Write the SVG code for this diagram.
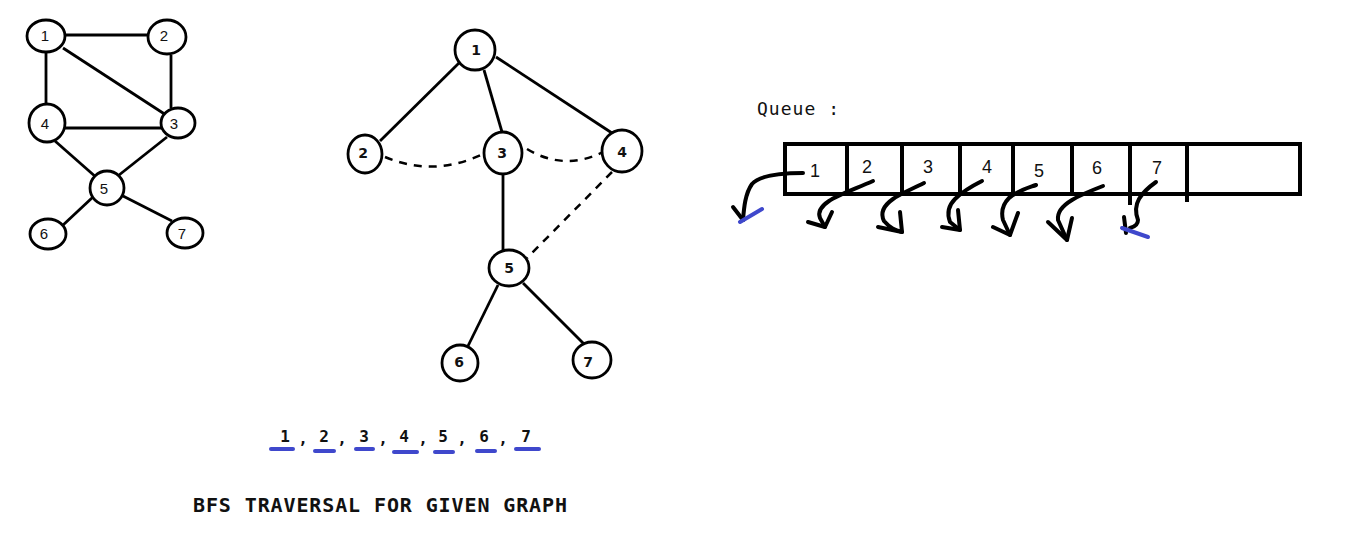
<svg xmlns="http://www.w3.org/2000/svg" width="1354" height="553" viewBox="0 0 1354 553">
<style>
.n{fill:#fff;stroke:#000;stroke-width:2.8}
.e{stroke:#000;stroke-width:2.8;fill:none}
.d{stroke:#000;stroke-width:2.5;fill:none;stroke-dasharray:8 7}
.ls{font-family:"Liberation Sans",Arial,sans-serif;font-size:15px;text-anchor:middle;fill:#111}
.ms{font-family:"DejaVu Sans",Verdana,sans-serif;font-size:14px;font-weight:bold;text-anchor:middle;fill:#111}
.q{font-family:"Liberation Sans",Arial,sans-serif;font-size:18px;text-anchor:middle;fill:#111}
.a{stroke:#000;stroke-width:4;fill:none;stroke-linecap:round;stroke-linejoin:round}
.b{stroke:#3f48cc;stroke-width:4;fill:none;stroke-linecap:round}
.sq{font-family:"DejaVu Sans Mono",monospace;font-size:16px;font-weight:bold;text-anchor:middle;fill:#111}
</style>
<rect width="1354" height="553" fill="#fff"/>
<g id="connectors">
<line class="e" x1="66" y1="35" x2="148" y2="35"/>
<line class="e" x1="46" y1="52" x2="46" y2="103"/>
<line class="e" x1="63" y1="48" x2="166" y2="115"/>
<line class="e" x1="171" y1="55" x2="171" y2="108"/>
<line class="e" x1="65" y1="128" x2="163" y2="128"/>
<line class="e" x1="55" y1="141" x2="97" y2="178"/>
<line class="e" x1="167" y1="137" x2="114" y2="179"/>
<line class="e" x1="93" y1="197" x2="62" y2="226"/>
<line class="e" x1="123" y1="196" x2="172" y2="221"/>
<line class="e" x1="459" y1="63" x2="380" y2="141"/>
<line class="e" x1="484" y1="70" x2="502" y2="132"/>
<line class="e" x1="496" y1="57" x2="615" y2="135"/>
<line class="e" x1="503" y1="174" x2="503" y2="250"/>
<line class="e" x1="498" y1="285" x2="467" y2="348"/>
<line class="e" x1="523" y1="283" x2="585" y2="345"/>
<path class="d" d="M385 157 Q435 178 485 153"/>
<path class="d" d="M527 149 Q565 172 605 151"/>
<line class="d" x1="612" y1="172" x2="527" y2="258"/>
<path class="a" d="M803 173 C780 173 760 175 752 184 C745 194 744 208 743 220"/>
<path class="a" d="M733 207 L743 220"/>
<path class="a" d="M873 181 C855 189 838 195 829 201 C820 207 818 213 820 218 L825 227"/>
<path class="a" d="M808 222 L825 227 L832 212"/>
<path class="a" d="M924 183 C910 190 900 194 893 199 C883 206 880 213 884 221 C890 228 895 230 902 232"/>
<path class="a" d="M878 227 L902 232 L900 212"/>
<path class="a" d="M982 181 C970 187 960 194 955 199 C948 206 947 214 950 222 L960 230"/>
<path class="a" d="M942 227 L960 230 L958 210"/>
<path class="a" d="M1036 185 C1025 189 1015 192 1009 198 C1002 205 1001 212 1003 220 L1010 235"/>
<path class="a" d="M993 227 L1010 235 L1018 213"/>
<path class="a" d="M1103 186 C1090 191 1080 195 1072 200 C1062 206 1057 212 1058 220 L1067 240"/>
<path class="a" d="M1048 222 L1067 240 L1072 218"/>
<path class="a" d="M1156 182 C1149 187 1143 192 1139 199 C1135 206 1135 212 1138 220 C1138 225 1134 227 1130 228"/>
<path class="a" d="M1124 217 L1126 233"/>
<line class="b" x1="740" y1="222" x2="762" y2="209"/>
<line class="b" x1="1122" y1="228" x2="1148" y2="237"/>
<line class="b" x1="271" y1="449" x2="293" y2="449"/>
<line class="b" x1="315" y1="451" x2="334" y2="451"/>
<line class="b" x1="356" y1="449" x2="373" y2="449"/>
<line class="b" x1="394" y1="452" x2="417" y2="452"/>
<line class="b" x1="435" y1="452" x2="453" y2="452"/>
<line class="b" x1="477" y1="451" x2="495" y2="451"/>
<line class="b" x1="516" y1="449" x2="539" y2="449"/>
</g>
<g id="left-graph">
<g id="l1"><ellipse class="n" cx="46" cy="36" rx="19" ry="16"/><text class="ls" x="45" y="41">1</text></g>
<g id="l2"><ellipse class="n" cx="167" cy="37" rx="19" ry="17"/><text class="ls" x="164" y="41">2</text></g>
<g id="l4"><ellipse class="n" cx="47" cy="123" rx="18" ry="19"/><text class="ls" x="45" y="129">4</text></g>
<g id="l3"><ellipse class="n" cx="178" cy="123" rx="17" ry="15"/><text class="ls" x="174" y="129">3</text></g>
<g id="l5"><ellipse class="n" cx="107" cy="188" rx="17" ry="17"/><text class="ls" x="104" y="194">5</text></g>
<g id="l6"><ellipse class="n" cx="48" cy="234" rx="18" ry="15"/><text class="ls" x="44" y="239">6</text></g>
<g id="l7"><ellipse class="n" cx="185" cy="233" rx="18" ry="15"/><text class="ls" x="182" y="239">7</text></g>
</g>
<g id="tree">
<g id="t1"><ellipse class="n" cx="475" cy="50" rx="20" ry="20"/><text class="ms" x="476" y="55">1</text></g>
<g id="t2"><ellipse class="n" cx="365" cy="154" rx="17" ry="19"/><text class="ms" x="363" y="158">2</text></g>
<g id="t3"><ellipse class="n" cx="503" cy="153" rx="19" ry="21"/><text class="ms" x="502" y="158">3</text></g>
<g id="t4"><ellipse class="n" cx="622" cy="151" rx="20" ry="21"/><text class="ms" x="622" y="157">4</text></g>
<g id="t5"><ellipse class="n" cx="509" cy="268" rx="20" ry="18"/><text class="ms" x="509" y="273">5</text></g>
<g id="t6"><ellipse class="n" cx="460" cy="363" rx="18" ry="18"/><text class="ms" x="459" y="367">6</text></g>
<g id="t7"><ellipse class="n" cx="592" cy="360" rx="19" ry="18"/><text class="ms" x="588" y="367">7</text></g>
</g>
<g id="queue">
<text x="757" y="115" font-family="DejaVu Sans Mono,monospace" font-size="18" fill="#111" textLength="82" lengthAdjust="spacing">Queue :</text>
<rect x="785" y="144" width="515" height="50" fill="none" stroke="#000" stroke-width="4"/>
<g stroke="#000" stroke-width="4">
<line x1="847" y1="144" x2="847" y2="194"/>
<line x1="902" y1="144" x2="902" y2="194"/>
<line x1="960" y1="144" x2="960" y2="194"/>
<line x1="1013" y1="144" x2="1013" y2="194"/>
<line x1="1072" y1="144" x2="1072" y2="194"/>
<line x1="1130" y1="144" x2="1130" y2="205"/>
<line x1="1187" y1="144" x2="1187" y2="202"/>
</g>
<text class="q" x="815" y="177">1</text>
<text class="q" x="867" y="173">2</text>
<text class="q" x="928" y="173">3</text>
<text class="q" x="987" y="173">4</text>
<text class="q" x="1039" y="177">5</text>
<text class="q" x="1097" y="174">6</text>
<text class="q" x="1157" y="174">7</text>
</g>
<g id="sequence">
<text class="sq" x="285" y="442">1</text><text class="sq" x="303" y="444">,</text>
<text class="sq" x="324" y="442">2</text><text class="sq" x="342" y="444">,</text>
<text class="sq" x="364" y="442">3</text><text class="sq" x="383" y="444">,</text>
<text class="sq" x="404" y="442">4</text><text class="sq" x="423" y="444">,</text>
<text class="sq" x="443" y="442">5</text><text class="sq" x="462" y="444">,</text>
<text class="sq" x="484" y="442">6</text><text class="sq" x="503" y="444">,</text>
<text class="sq" x="526" y="442">7</text>
</g>
<g id="title">
<text x="193" y="512" font-family="DejaVu Sans Mono,monospace" font-size="20" font-weight="bold" fill="#111" textLength="374" lengthAdjust="spacing">BFS TRAVERSAL FOR GIVEN GRAPH</text>
</g>
</svg>
